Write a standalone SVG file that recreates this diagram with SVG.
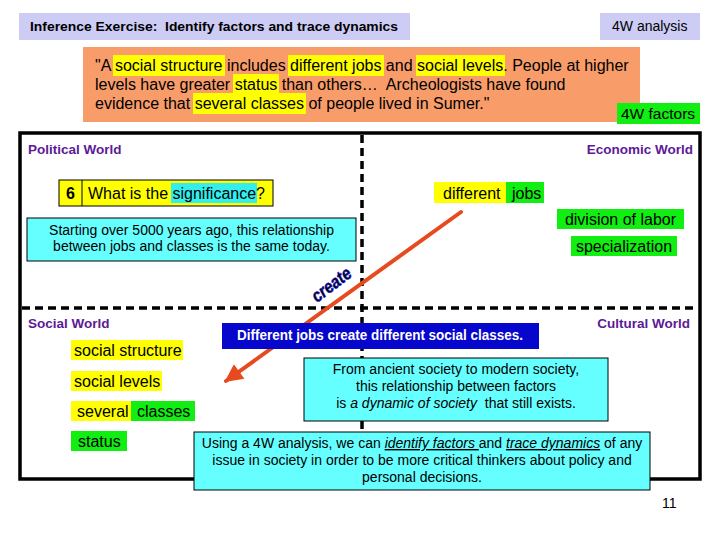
<svg xmlns="http://www.w3.org/2000/svg" width="720" height="540" viewBox="0 0 720 540">
<style>
text{font-family:"Liberation Sans",Arial,sans-serif;fill:#000}
.hy{fill:#ffff00}
.hg{fill:#11ee11}
.cy{fill:#66ffff;stroke:#000;stroke-width:1}
.world{font-size:13.5px;font-weight:bold;fill:#5c1a96}
.t16{font-size:16px}
.t14{font-size:14px}
.dash{stroke:#000;stroke-width:3.5;stroke-dasharray:8,5;fill:none}
</style>
<defs>
<marker id="ah" viewBox="0 0 10 10" refX="9" refY="5" markerWidth="5" markerHeight="4.5" orient="auto" markerUnits="strokeWidth">
<path d="M0,0 L10,5 L0,10 Z" fill="#e64a1e"/>
</marker>
</defs>
<rect width="720" height="540" fill="#fff"/>

<g id="title">
<rect x="19" y="13" width="391" height="27" fill="#ccccf5"/>
<text x="30" y="31" font-size="13.5" font-weight="bold" textLength="368" lengthAdjust="spacingAndGlyphs">Inference Exercise:&#160; Identify factors and trace dynamics</text>
</g>
<g id="analysis">
<rect x="600" y="13" width="100" height="27" fill="#ccccf5"/>
<text x="612" y="31" class="t14">4W analysis</text>
</g>

<g id="quote">
<rect x="83" y="47" width="557" height="75" fill="#f89c6a"/>
<rect class="hy" x="113" y="55" width="112" height="21"/>
<rect class="hy" x="288" y="55" width="96" height="21"/>
<rect class="hy" x="416" y="55" width="89" height="21"/>
<rect class="hy" x="233" y="74" width="46" height="21"/>
<rect class="hy" x="193" y="93" width="113" height="21"/>
<text class="t16" x="95" y="71">"A social structure includes different jobs and social levels. People at higher</text>
<text class="t16" x="95" y="90">levels have greater status than others…&#160; Archeologists have found</text>
<text class="t16" x="95" y="109">evidence that several classes of people lived in Sumer."</text>
</g>
<g id="factors">
<rect class="hg" x="617" y="103" width="83" height="21"/>
<text x="621" y="119" font-size="15.5">4W factors</text>
</g>

<g id="frame">
<rect x="20" y="133" width="680" height="346" fill="none" stroke="#000" stroke-width="3.5"/>
<line class="dash" x1="22" y1="308" x2="698" y2="308"/>
<line class="dash" x1="362" y1="135" x2="362" y2="477"/>
</g>

<g id="labels">
<text class="world" x="28" y="154">Political World</text>
<text class="world" x="693" y="154" text-anchor="end">Economic World</text>
<text class="world" x="28" y="328">Social World</text>
<text class="world" x="690" y="328" text-anchor="end">Cultural World</text>
</g>

<g id="question">
<rect x="59" y="180" width="214" height="26" fill="#ffff00" stroke="#000" stroke-width="1"/>
<line x1="82" y1="180" x2="82" y2="206" stroke="#000" stroke-width="1"/>
<rect x="171" y="183" width="86" height="20" fill="#33eeee"/>
<text x="70.5" y="199" font-size="16" font-weight="bold" text-anchor="middle">6</text>
<text class="t16" x="88" y="199">What is the significance?</text>
</g>

<g id="starting">
<rect class="cy" x="27" y="218" width="329" height="43"/>
<text class="t14" x="191.5" y="235" text-anchor="middle">Starting over 5000 years ago, this relationship</text>
<text class="t14" x="191.5" y="251" text-anchor="middle">between jobs and classes is the same today.</text>
</g>

<g id="jobs">
<rect class="hy" x="434" y="182" width="72" height="21"/>
<rect class="hg" x="506" y="182" width="38" height="21"/>
<text class="t16" x="443" y="199">different</text>
<text class="t16" x="512" y="199">jobs</text>
</g>
<g id="division">
<rect class="hg" x="557" y="209" width="127" height="20"/>
<text class="t16" x="620.5" y="225" text-anchor="middle">division of labor</text>
</g>
<g id="specialization">
<rect class="hg" x="571" y="236" width="106" height="20"/>
<text class="t16" x="624" y="252" text-anchor="middle">specialization</text>
</g>

<g id="social-structure">
<rect class="hy" x="71" y="340" width="112" height="20"/>
<text class="t16" x="74" y="356">social structure</text>
</g>
<g id="social-levels">
<rect class="hy" x="71" y="371" width="91" height="20"/>
<text class="t16" x="74" y="387">social levels</text>
</g>
<g id="several-classes">
<rect class="hy" x="71" y="401" width="60" height="20"/>
<rect class="hg" x="131" y="401" width="64" height="20"/>
<text class="t16" x="77" y="417">several</text>
<text class="t16" x="137" y="417">classes</text>
</g>
<g id="status">
<rect class="hg" x="71" y="431" width="56" height="20"/>
<text class="t16" x="78" y="447">status</text>
</g>

<g id="connectors">
<line x1="461" y1="212" x2="226" y2="381" stroke="#e64a1e" stroke-width="4" stroke-linecap="round" marker-end="url(#ah)"/>
<text transform="translate(317,303) rotate(-37)" font-size="18" font-weight="bold" font-style="italic" fill="#1e1ee0" stroke="#1e1ee0" stroke-width="0.6" textLength="45" lengthAdjust="spacingAndGlyphs">create</text>
</g>

<g id="statement">
<rect x="222" y="323" width="317" height="26" fill="#0606cc"/>
<text x="237" y="340" font-size="14" font-weight="bold" style="fill:#fff" textLength="286" lengthAdjust="spacingAndGlyphs">Different jobs create different social classes.</text>
</g>

<g id="dynamic">
<rect class="cy" x="304" y="358" width="304" height="63"/>
<text class="t14" x="456" y="374" text-anchor="middle">From ancient society to modern society,</text>
<text class="t14" x="456" y="391" text-anchor="middle">this relationship between factors</text>
<text class="t14" x="456" y="408" text-anchor="middle">is <tspan font-style="italic">a dynamic of society</tspan>&#160; that still exists.</text>
</g>

<g id="conclusion">
<rect class="cy" x="194" y="432" width="456" height="58"/>
<text class="t14" x="422" y="448" text-anchor="middle">Using a 4W analysis, we can <tspan font-style="italic" text-decoration="underline">identify factors </tspan> and <tspan font-style="italic" text-decoration="underline">trace dynamics</tspan> of any</text>
<text class="t14" x="422" y="465" text-anchor="middle">issue in society in order to be more critical thinkers about policy and</text>
<text class="t14" x="422" y="482" text-anchor="middle">personal decisions.</text>
</g>

<g id="page">
<text class="t14" x="662" y="508">11</text>
</g>
</svg>
